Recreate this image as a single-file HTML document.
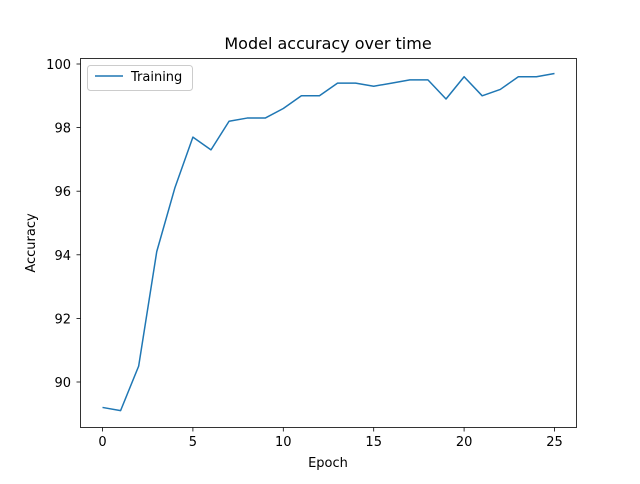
<!DOCTYPE html>
<html><head><meta charset="utf-8"><style>
body{margin:0;background:#fff;font-family:"DejaVu Sans","Liberation Sans",sans-serif}
</style></head><body>
<svg id="chart" width="640" height="480" xmlns="http://www.w3.org/2000/svg" font-family="DejaVu Sans, Liberation Sans, sans-serif">
<rect width="640" height="480" fill="#fff"/>
<text x="328" y="49" font-size="16" text-anchor="middle" fill="#000">Model accuracy over time</text>
<g id="ticks"></g>
<path id="line" fill="none" stroke="#1f77b4" stroke-width="1.5" stroke-linejoin="round"/>
<rect x="80.5" y="58.5" width="496" height="369" fill="none" stroke="#000" stroke-width="0.8"/>
<text x="328" y="467" font-size="13" text-anchor="middle">Epoch</text>
<text transform="translate(35,243) rotate(-90)" font-size="13" text-anchor="middle">Accuracy</text>
<g>
<rect x="87.5" y="65.5" width="105" height="25" rx="3" fill="#fff" stroke="#ccc"/>
<line x1="95" y1="76" x2="123" y2="76" stroke="#1f77b4" stroke-width="1.5"/>
<text x="131" y="81" font-size="13">Training</text>
</g>
</svg>
<script>
const epochs=[0,1,2,3,4,5,6,7,8,9,10,11,12,13,14,15,16,17,18,19,20,21,22,23,24,25];
const accuracy=[89.2,89.1,90.5,94.1,96.1,97.7,97.3,98.2,98.3,98.3,98.6,99.0,99.0,99.4,99.4,99.3,99.4,99.5,99.5,98.9,99.6,99.0,99.2,99.6,99.6,99.7];
const xTicks=[0,5,10,15,20,25];
const yTicks=[90,92,94,96,98,100];
const xs=v=>102.5+v*18.08;
const ys=v=>382-(v-90)*31.8;
const ns="http://www.w3.org/2000/svg";
const g=document.getElementById('ticks');
function mk(t,a){const e=document.createElementNS(ns,t);for(const k in a)e.setAttribute(k,a[k]);g.appendChild(e);return e;}
xTicks.forEach(v=>{
 const l=mk('line',{x1:xs(v),x2:xs(v),y1:427.5,y2:431.5,stroke:'#000','stroke-width':0.8});
 
 
 const t=mk('text',{x:xs(v),y:446,'font-size':13,'text-anchor':'middle'});t.textContent=v;
 
 
});
yTicks.forEach(v=>{
 const l=mk('line',{x1:76.5,x2:80.5,y1:ys(v),y2:ys(v),stroke:'#000','stroke-width':0.8});
 
 
 const t=mk('text',{x:71,y:ys(v)+5,'font-size':13,'text-anchor':'end'});t.textContent=v;
 
 
});
document.getElementById('line').setAttribute('d',epochs.map((e,i)=>(i?'L':'M')+xs(e)+','+ys(accuracy[i])).join(' '));
</script>
</body></html>
